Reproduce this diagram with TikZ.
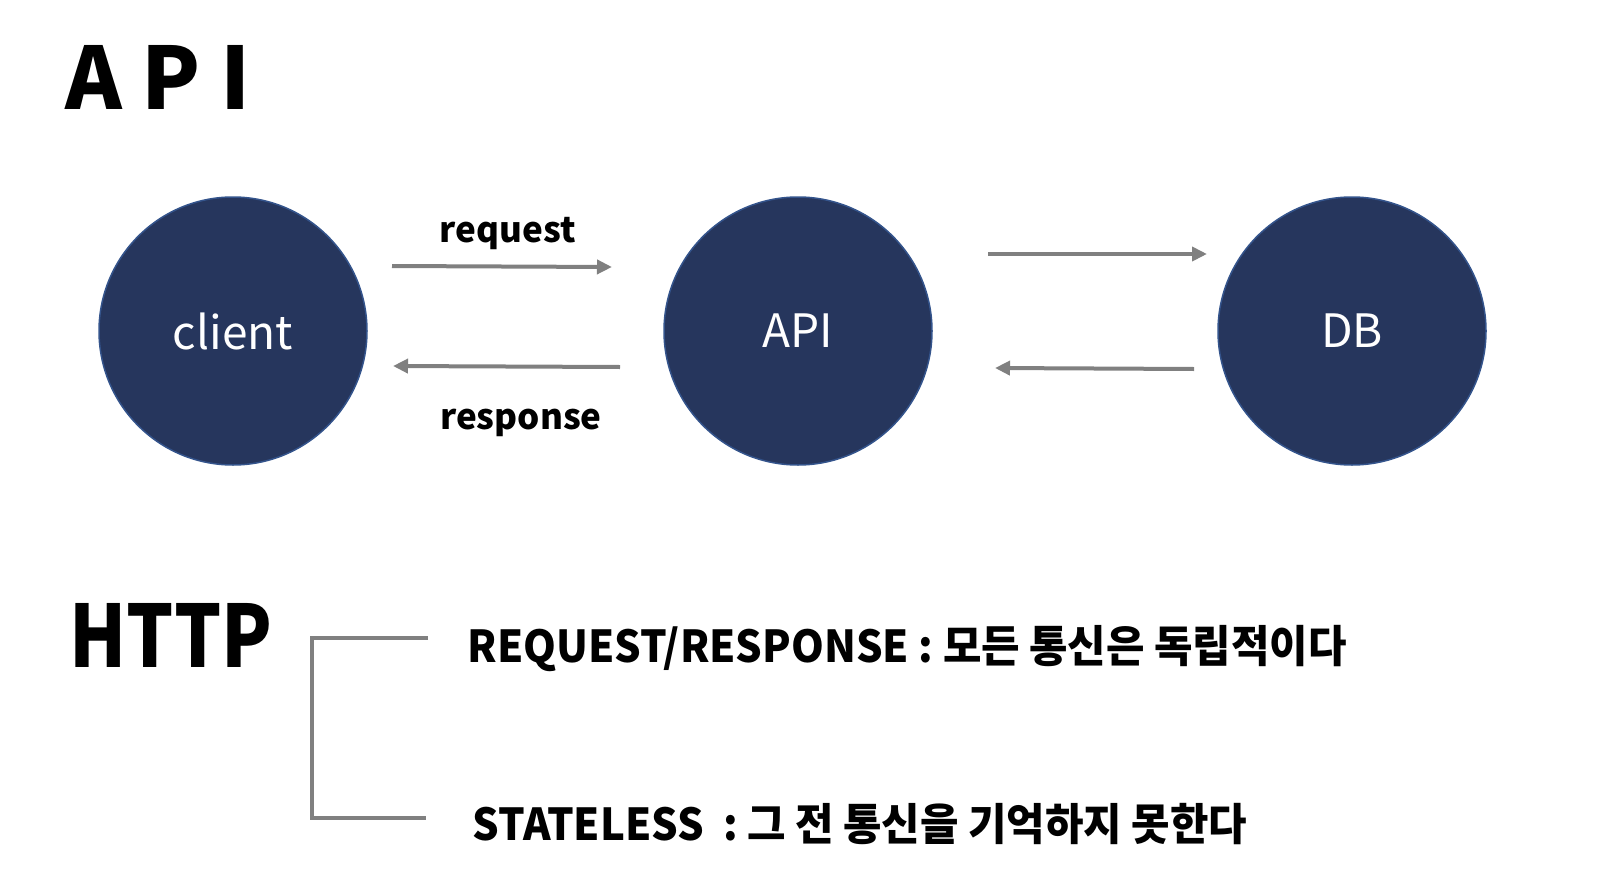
\documentclass[tikz,border=0pt]{standalone}
\usepackage{fontspec}
\setmainfont{Noto Sans CJK KR}
\newfontfamily\httpfont[FakeStretch=0.86]{Noto Sans CJK KR}
\newfontfamily\pointfont[FakeStretch=0.95]{Noto Sans CJK KR}
\usepackage{xcolor}
\usetikzlibrary{arrows.meta}
\definecolor{navy}{RGB}{38,54,93}
\definecolor{edgeblue}{RGB}{52,84,140}
\definecolor{linegray}{RGB}{128,128,128}

\begin{document}
\begin{tikzpicture}[
    x=1pt,y=-1pt,
    station/.style={circle,draw=edgeblue,line width=1.5pt,fill=navy,
                    minimum size=268pt,inner sep=0pt,text=white,
                    font=\fontsize{46}{46}\selectfont},
    flow/.style={draw=linegray,line width=4pt,
                 -{Triangle[length=15pt,width=14pt]}},
    bracket/.style={draw=linegray,line width=3.5pt},
    heading/.style={anchor=base west,font=\fontsize{86}{86}\selectfont\bfseries},
    tag/.style={anchor=base,font=\fontsize{35}{35}\selectfont\bfseries},
    point/.style={anchor=base west,font=\pointfont\fontsize{44}{44}\selectfont\bfseries}
]
    \useasboundingbox (0,0) rectangle (1610,886);

    % Titles of the two parts.
    \node[heading] (title) at (62,109) {A P I};
    \node[heading] (http)  at (66,667) {\httpfont HTTP};

    % The three stations of one exchange.
    \node[station] (client) at (233,331) {client};
    \node[station] (api)    at (798,331) {API};
    \node[station] (db)     at (1352,331) {DB};

    % Free ends of the exchange arrows.
    \coordinate (reqA) at (392,266);
    \coordinate (reqB) at (612,267);
    \coordinate (resA) at (620,367);
    \coordinate (resB) at (393,366);
    \coordinate (qryA) at (988,254);
    \coordinate (qryB) at (1207,254);
    \coordinate (ansA) at (1194,369);
    \coordinate (ansB) at (995,368);

    \draw[flow] (reqA) -- (reqB);
    \draw[flow] (resA) -- (resB);
    \draw[flow] (qryA) -- (qryB);
    \draw[flow] (ansA) -- (ansB);

    \node[tag] (reqtag) at (508,242) {request};
    \node[tag] (restag) at (521,429) {response};

    % The two properties of HTTP.
    \node[point] (rr)  at (464,662) {REQUEST/RESPONSE : 모든 통신은 독립적이다};
    \node[point] (stl) at (469,840) {STATELESS\ \ : 그 전 통신을 기억하지 못한다};

    \coordinate (brTop) at (428,638);
    \coordinate (brBot) at (426,818);
    \draw[bracket] (brTop) -- (312,638) -- (312,818) -- (brBot);
\end{tikzpicture}
\end{document}
